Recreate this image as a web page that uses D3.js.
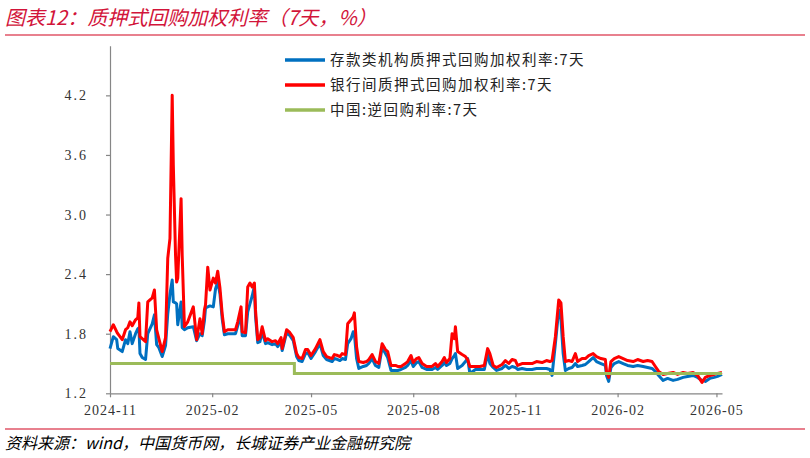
<!DOCTYPE html>
<html><head><meta charset="utf-8">
<script src="https://cdn.jsdelivr.net/npm/d3@7"></script>
<style>body{margin:0;background:#fff}svg{display:block}</style>
</head><body>
<svg id="c" width="810" height="458"></svg>
<script>
const dates = ["2024-11-01","2024-11-04","2024-11-07","2024-11-08","2024-11-12","2024-11-15","2024-11-17","2024-11-19","2024-11-21","2024-11-24","2024-11-26","2024-11-27","2024-11-28","2024-11-30","2024-12-03","2024-12-05","2024-12-09","2024-12-11","2024-12-13","2024-12-15","2024-12-18","2024-12-21","2024-12-23","2024-12-25","2024-12-27","2024-12-28","2024-12-30","2024-12-31","2025-01-01","2025-01-04","2025-01-05","2025-01-07","2025-01-10","2025-01-15","2025-01-18","2025-01-21","2025-01-23","2025-01-25","2025-01-26","2025-01-28","2025-01-30","2025-02-02","2025-02-04","2025-02-06","2025-02-08","2025-02-10","2025-02-12","2025-02-15","2025-02-22","2025-02-24","2025-02-27","2025-02-28","2025-03-03","2025-03-05","2025-03-07","2025-03-09","2025-03-11","2025-03-12","2025-03-14","2025-03-16","2025-03-18","2025-03-21","2025-03-23","2025-03-27","2025-03-30","2025-04-01","2025-04-04","2025-04-05","2025-04-09","2025-04-12","2025-04-15","2025-04-18","2025-04-20","2025-04-23","2025-04-26","2025-04-28","2025-05-01","2025-05-05","2025-05-09","2025-05-12","2025-05-15","2025-05-20","2025-05-22","2025-05-25","2025-05-27","2025-05-29","2025-06-01","2025-06-03","2025-06-06","2025-06-08","2025-06-09","2025-06-11","2025-06-13","2025-06-17","2025-06-20","2025-06-22","2025-06-25","2025-06-28","2025-07-01","2025-07-04","2025-07-07","2025-07-09","2025-07-12","2025-07-16","2025-07-18","2025-07-21","2025-07-25","2025-07-27","2025-07-30","2025-08-01","2025-08-04","2025-08-06","2025-08-09","2025-08-13","2025-08-18","2025-08-21","2025-08-23","2025-08-27","2025-08-29","2025-08-31","2025-09-03","2025-09-05","2025-09-07","2025-09-08","2025-09-10","2025-09-14","2025-09-17","2025-09-19","2025-09-21","2025-09-26","2025-09-30","2025-10-04","2025-10-07","2025-10-09","2025-10-12","2025-10-15","2025-10-20","2025-10-23","2025-10-26","2025-10-29","2025-11-01","2025-11-03","2025-11-07","2025-11-11","2025-11-16","2025-11-20","2025-11-25","2025-11-29","2025-12-02","2025-12-04","2025-12-07","2025-12-10","2025-12-12","2025-12-14","2025-12-16","2025-12-19","2025-12-22","2025-12-25","2025-12-27","2025-12-31","2026-01-03","2026-01-06","2026-01-10","2026-01-13","2026-01-17","2026-01-21","2026-01-22","2026-01-24","2026-01-26","2026-01-29","2026-02-02","2026-02-06","2026-02-10","2026-02-15","2026-02-19","2026-02-24","2026-02-28","2026-03-04","2026-03-07","2026-03-10","2026-03-14","2026-03-18","2026-03-23","2026-03-27","2026-04-01","2026-04-05","2026-04-10","2026-04-14","2026-04-18","2026-04-21","2026-04-25","2026-04-29","2026-05-02","2026-05-06"];

const depositRate = [1.65,1.77,1.74,1.65,1.62,1.74,1.70,1.82,1.70,1.80,1.85,1.86,1.60,1.56,1.54,1.80,1.90,1.99,1.69,1.66,1.57,1.68,2.00,2.20,2.34,2.12,2.11,2.10,1.89,2.12,1.86,1.84,1.86,1.87,1.73,1.80,1.78,1.93,2.06,2.07,2.08,2.07,2.25,2.32,2.20,1.95,1.79,1.80,1.80,1.88,1.98,1.78,1.78,2.02,2.10,2.18,2.28,1.98,1.71,1.72,1.82,1.70,1.71,1.69,1.70,1.67,1.72,1.63,1.81,1.78,1.73,1.57,1.53,1.52,1.60,1.61,1.55,1.62,1.70,1.58,1.54,1.52,1.55,1.54,1.53,1.55,1.54,1.70,1.75,1.82,1.80,1.55,1.45,1.47,1.48,1.50,1.55,1.48,1.46,1.66,1.60,1.56,1.43,1.43,1.43,1.44,1.46,1.48,1.53,1.47,1.51,1.52,1.46,1.44,1.44,1.46,1.44,1.48,1.51,1.48,1.50,1.55,1.58,1.60,1.45,1.48,1.52,1.55,1.40,1.44,1.44,1.44,1.60,1.50,1.46,1.43,1.45,1.48,1.45,1.47,1.46,1.44,1.45,1.44,1.44,1.45,1.45,1.45,1.44,1.38,1.70,2.04,1.95,1.60,1.43,1.45,1.46,1.50,1.47,1.48,1.49,1.52,1.56,1.52,1.50,1.48,1.38,1.32,1.46,1.50,1.52,1.50,1.48,1.47,1.48,1.47,1.46,1.45,1.42,1.38,1.33,1.35,1.33,1.34,1.36,1.37,1.38,1.36,1.33,1.32,1.35,1.36,1.37,1.39];

const interbankRate = [1.82,1.89,1.82,1.80,1.74,1.84,1.86,1.92,1.88,1.94,1.96,2.11,1.77,1.75,1.72,2.12,2.16,2.24,1.84,1.75,1.62,1.76,2.56,2.76,4.20,3.50,2.59,2.32,2.36,3.16,2.59,1.87,1.92,2.07,1.74,1.95,1.80,2.04,2.09,2.47,2.24,2.36,2.31,2.43,2.26,2.00,1.82,1.84,1.84,1.92,2.07,1.82,1.81,2.27,2.31,2.27,2.31,2.04,1.74,1.76,1.87,1.73,1.75,1.72,1.73,1.70,1.76,1.65,1.84,1.81,1.76,1.60,1.56,1.55,1.64,1.64,1.58,1.65,1.74,1.62,1.57,1.55,1.59,1.58,1.57,1.60,1.59,1.90,1.94,1.97,2.01,1.67,1.52,1.51,1.52,1.54,1.59,1.52,1.50,1.70,1.64,1.62,1.48,1.48,1.47,1.47,1.50,1.52,1.58,1.51,1.55,1.56,1.50,1.47,1.47,1.50,1.47,1.52,1.56,1.51,1.55,1.80,1.75,1.87,1.62,1.59,1.57,1.54,1.47,1.47,1.47,1.48,1.65,1.60,1.48,1.46,1.49,1.53,1.50,1.54,1.53,1.48,1.50,1.50,1.50,1.52,1.51,1.53,1.52,1.53,1.77,2.14,2.11,1.77,1.52,1.53,1.52,1.60,1.52,1.55,1.55,1.58,1.60,1.57,1.55,1.54,1.42,1.36,1.52,1.55,1.57,1.55,1.53,1.52,1.54,1.52,1.53,1.52,1.47,1.42,1.39,1.40,1.41,1.39,1.41,1.40,1.41,1.38,1.31,1.36,1.38,1.39,1.40,1.41];

const policyDates = ["2024-11-01","2025-04-16","2026-05-06"];
const policyRate = [1.5,1.4,1.4];

const yTicks = [1.2,1.8,2.4,3.0,3.6,4.2];
const xTicks = ["2024-11-01","2025-02-01","2025-05-01","2025-08-01","2025-11-01","2026-02-01","2026-05-01"];
const seriesNames = ["存款类机构质押式回购加权利率:7天","银行间质押式回购加权利率:7天","中国:逆回购利率:7天"];
const seriesColors = ["#0070C0","#FF0000","#9BBB59"];
const titleText = "图表12：质押式回购加权利率（7天，%）";
const sourceText = "资料来源：wind，中国货币网，长城证券产业金融研究院";

const parse = d3.timeParse("%Y-%m-%d");
const svg = d3.select("#c");

const x = d3.scaleTime().domain([parse("2024-11-01"), parse("2026-05-06")]).range([110, 722]);
const y = d3.scaleLinear().domain([1.2, 4.7]).range([393.3, 45.7]);

// title
svg.append("text").attr("x", 5).attr("y", 25)
  .attr("font-family", "'Noto Sans CJK SC', sans-serif").attr("font-size", 20)
  .attr("font-style", "italic").attr("fill", "#D2143A").text(titleText);
svg.append("line").attr("x1", 5).attr("x2", 805).attr("y1", 35).attr("y2", 35)
  .attr("stroke", "#E8808E").attr("stroke-width", 2);

// footer
svg.append("line").attr("x1", 5).attr("x2", 805).attr("y1", 429).attr("y2", 429)
  .attr("stroke", "#E8808E").attr("stroke-width", 2);
svg.append("text").attr("x", 5).attr("y", 449)
  .attr("font-family", "'Noto Sans CJK SC', sans-serif").attr("font-size", 16)
  .attr("font-style", "italic").attr("fill", "#000").text(sourceText);

// axes
const gy = svg.append("g").attr("transform", "translate(110,0)")
  .call(d3.axisLeft(y).tickValues(yTicks).tickFormat(d3.format(".1f")).tickSize(4).tickSizeOuter(0).tickPadding(18));
const gx = svg.append("g").attr("transform", "translate(0,393.3)")
  .call(d3.axisBottom(x).tickValues(xTicks.map(parse)).tickFormat(d3.timeFormat("%Y-%m")).tickSize(4).tickSizeOuter(0).tickPadding(8));
[gx, gy].forEach(g => {
  g.selectAll("path,line").attr("stroke", "#868686").attr("stroke-width", 1.2);
  g.selectAll("text").attr("font-family", "'Liberation Serif', serif").attr("font-size", 14)
    .attr("fill", "#333").attr("letter-spacing", 1);
});
gy.selectAll("text").attr("letter-spacing", 2);

// lines
const line = d3.line().x(d => x(d[0])).y(d => y(d[1]));
const blueData = dates.map((d, i) => [parse(d), depositRate[i]]);
const redData = dates.map((d, i) => [parse(d), interbankRate[i]]);
const greenData = policyDates.map((d, i) => [parse(d), policyRate[i]]);

svg.append("path").datum(blueData).attr("d", line).attr("fill", "none")
  .attr("stroke", seriesColors[0]).attr("stroke-width", 3).attr("stroke-linejoin", "round");
svg.append("path").datum(redData).attr("d", line).attr("fill", "none")
  .attr("stroke", seriesColors[1]).attr("stroke-width", 3).attr("stroke-linejoin", "round");
svg.append("path").datum(greenData).attr("d", d3.line().x(d => x(d[0])).y(d => y(d[1])).curve(d3.curveStepAfter))
  .attr("fill", "none").attr("stroke", seriesColors[2]).attr("stroke-width", 3);

// legend
const lg = svg.append("g");
seriesNames.forEach((n, i) => {
  const yy = 60 + i * 25;
  lg.append("line").attr("x1", 285).attr("x2", 325).attr("y1", yy).attr("y2", yy)
    .attr("stroke", seriesColors[i]).attr("stroke-width", 3.5);
  lg.append("text").attr("x", 330).attr("y", yy).attr("dy", "0.35em")
    .attr("font-family", "'Noto Sans CJK SC', sans-serif").attr("font-size", 14.5)
    .attr("letter-spacing", 1.5).attr("fill", "#222").text(n);
});
</script>
</body></html>
